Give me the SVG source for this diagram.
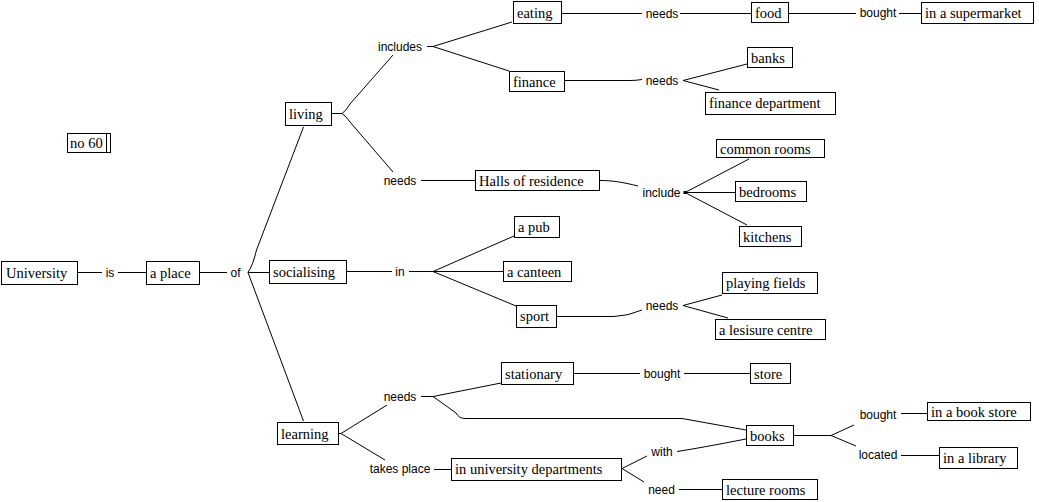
<svg xmlns="http://www.w3.org/2000/svg" width="1039" height="502" viewBox="0 0 1039 502">
<style>
.n rect{fill:#fff;stroke:#000;stroke-width:1}
.n text{font-family:"Liberation Serif","Times New Roman",serif;font-size:14.5px;fill:#000}
.l{font-family:"Liberation Sans",Arial,sans-serif;font-size:12px;fill:#000;text-anchor:middle}
#connectors path{fill:none;stroke:#000;stroke-width:1}
</style>
<rect width="1039" height="502" fill="#fff"/>
<g id="connectors">
<path d="M78,272.5H102M118,272.5H146"/>
<path d="M200,272.5H227"/>
<path d="M248,272.5H269"/>
<path d="M248,272.5Q253,265 256.5,250L303.5,127"/>
<path d="M248,272.5L303.5,421"/>
<path d="M332,113.5H342M342,113.5Q346,111 350,104L393,55M342,113.5Q346,116 350,122L393,172"/>
<path d="M427,46.5H433M433,46.5L512,22M433,46.5L509,71"/>
<path d="M562,13.5H642M680,13.5H751"/>
<path d="M789,13.5H856M899,13.5H921"/>
<path d="M565,80.5H630Q636,80.5 642,79.5"/>
<path d="M683,80.5L747,64M683,80.5L719,90"/>
<path d="M421,180.5H475"/>
<path d="M600,180.5C612,180.5 622,182 638,186"/>
<path d="M685,192.5L749,159M685,192.5H735M685,192.5L747,225"/>
<path d="M347,271.5H392M409,271.5H433"/>
<path d="M433,271.5L514,236M433,271.5H503M433,271.5L516,306"/>
<path d="M557,316.5H614Q628,316 642,310"/>
<path d="M683,305.5L722,295M683,305.5L728,318"/>
<path d="M339,433.5H341M341,433.5L387,405M341,433.5L385,460"/>
<path d="M421,396.5H433M433,396.5L501,383M433,396.5L456,413Q459,418.5 465,418.5H682L746,430"/>
<path d="M573,373.5H640M684,373.5H750"/>
<path d="M794,435.5H831M831,435.5L854,425M831,435.5L856,446"/>
<path d="M901,413.5H927M901,455.5H939"/>
<path d="M434,469.5H451"/>
<path d="M622,468.5L647,456M622,468.5L644,482"/>
<path d="M677,451.5Q700,448 746,439"/>
<path d="M679,489.5H722"/>
<rect x="683.5" y="191" width="3" height="3" fill="#000"/>
</g>
<g id="labels">
<text class="l" x="110" y="277">is</text>
<text class="l" x="235.5" y="277">of</text>
<text class="l" x="400" y="51">includes</text>
<text class="l" x="400" y="185">needs</text>
<text class="l" x="662" y="18">needs</text>
<text class="l" x="878" y="17">bought</text>
<text class="l" x="662" y="85">needs</text>
<text class="l" x="661.5" y="197">include</text>
<text class="l" x="400" y="276">in</text>
<text class="l" x="662" y="310">needs</text>
<text class="l" x="400" y="401">needs</text>
<text class="l" x="662" y="378">bought</text>
<text class="l" x="878" y="419">bought</text>
<text class="l" x="878" y="459">located</text>
<text class="l" x="400" y="473">takes place</text>
<text class="l" x="662" y="456">with</text>
<text class="l" x="661.5" y="494">need</text>
</g>
<g id="n-university" class="n"><rect x="1.5" y="261.5" width="76" height="23"/><text x="6" y="278">University</text></g>
<g id="n-aplace" class="n"><rect x="146.5" y="261.5" width="53" height="23"/><text x="150" y="278">a place</text></g>
<g id="n-no60" class="n"><rect x="67.5" y="133.5" width="43" height="19"/><path d="M106.5,133.5V152.5" stroke="#000" fill="none"/><text x="70" y="148">no 60</text></g>
<g id="n-living" class="n"><rect x="285.5" y="102.5" width="46" height="23"/><text x="289" y="119">living</text></g>
<g id="n-socialising" class="n"><rect x="269.5" y="260.5" width="77" height="23"/><text x="273" y="277">socialising</text></g>
<g id="n-learning" class="n"><rect x="277.5" y="422.5" width="61" height="22"/><text x="281" y="439">learning</text></g>
<g id="n-eating" class="n"><rect x="513.5" y="1.5" width="48" height="22"/><text x="517" y="18">eating</text></g>
<g id="n-finance" class="n"><rect x="509.5" y="71.5" width="55" height="20"/><text x="513" y="87">finance</text></g>
<g id="n-halls" class="n"><rect x="475.5" y="170.5" width="124" height="20"/><text x="479" y="186">Halls of residence</text></g>
<g id="n-food" class="n"><rect x="751.5" y="2.5" width="37" height="20"/><text x="755" y="18">food</text></g>
<g id="n-supermarket" class="n"><rect x="921.5" y="2.5" width="112" height="21"/><text x="925" y="18">in a supermarket</text></g>
<g id="n-banks" class="n"><rect x="747.5" y="47.5" width="45" height="20"/><text x="751" y="63">banks</text></g>
<g id="n-financedept" class="n"><rect x="705.5" y="92.5" width="130" height="22"/><text x="709" y="108">finance department</text></g>
<g id="n-commonrooms" class="n"><rect x="716.5" y="139.5" width="108" height="18"/><text x="720" y="154">common rooms</text></g>
<g id="n-bedrooms" class="n"><rect x="735.5" y="181.5" width="71" height="20"/><text x="739" y="197">bedrooms</text></g>
<g id="n-kitchens" class="n"><rect x="739.5" y="226.5" width="62" height="20"/><text x="743" y="242">kitchens</text></g>
<g id="n-apub" class="n"><rect x="514.5" y="216.5" width="45" height="21"/><text x="518" y="232">a pub</text></g>
<g id="n-acanteen" class="n"><rect x="503.5" y="261.5" width="68" height="20"/><text x="507" y="277">a canteen</text></g>
<g id="n-sport" class="n"><rect x="516.5" y="305.5" width="40" height="22"/><text x="520" y="321">sport</text></g>
<g id="n-playingfields" class="n"><rect x="722.5" y="272.5" width="95" height="21"/><text x="726" y="288">playing fields</text></g>
<g id="n-leisure" class="n"><rect x="715.5" y="319.5" width="110" height="20"/><text x="719" y="335">a lesisure centre</text></g>
<g id="n-stationary" class="n"><rect x="501.5" y="362.5" width="72" height="22"/><text x="505" y="379">stationary</text></g>
<g id="n-store" class="n"><rect x="750.5" y="363.5" width="40" height="20"/><text x="754" y="379">store</text></g>
<g id="n-books" class="n"><rect x="746.5" y="425.5" width="47" height="20"/><text x="750" y="441">books</text></g>
<g id="n-bookstore" class="n"><rect x="927.5" y="402.5" width="103" height="18"/><text x="931" y="417">in a book store</text></g>
<g id="n-library" class="n"><rect x="939.5" y="447.5" width="78" height="21"/><text x="943" y="463">in a library</text></g>
<g id="n-univdepts" class="n"><rect x="451.5" y="458.5" width="170" height="22"/><text x="455" y="474">in university departments</text></g>
<g id="n-lecturerooms" class="n"><rect x="722.5" y="479.5" width="95" height="20"/><text x="726" y="495">lecture rooms</text></g>
</svg>
